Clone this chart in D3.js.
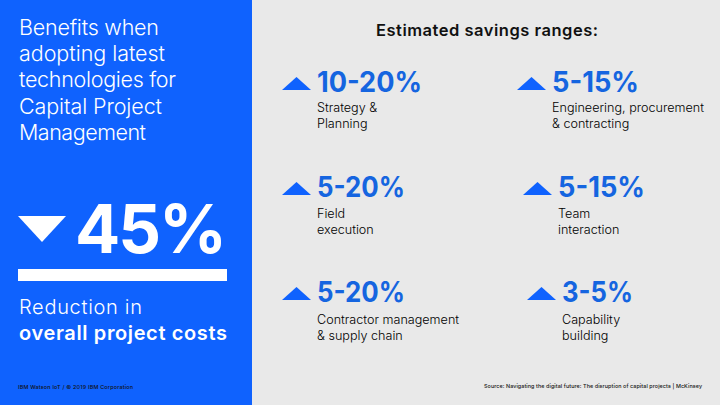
<!DOCTYPE html>
<html>
<head>
<meta charset="utf-8">
<script src="https://cdn.jsdelivr.net/npm/d3@7"></script>
<style>
  html, body { margin: 0; padding: 0; background: #e9e9e9; }
  svg { display: block; }
  text { font-family: "Inter", "Noto Sans", sans-serif; }
</style>
</head>
<body>
<svg id="chart" width="720" height="405"></svg>
<script>
// Values
const savingsRanges = ["10-20%", "5-20%", "5-20%", "5-15%", "5-15%", "3-5%"];
const savingsLabels = [
  ["Strategy &", "Planning"],
  ["Field", "execution"],
  ["Contractor management", "& supply chain"],
  ["Engineering, procurement", "& contracting"],
  ["Team", "interaction"],
  ["Capability", "building"]
];
const titleLines = ["Benefits when", "adopting latest", "technologies for", "Capital Project", "Management"];
const headlineValue = 45;
const headlineScaleMax = 45;

// Layout of the cards, the text start is different on each row of the right column
const cardX = [317, 317, 317, 552, 558, 562];
const cardY = [92, 197, 302, 92, 197, 302];
const labelY = [20, 21, 22, 20, 21, 22];
const rangeWidths = [105, 88, 88, 87, 87, 71];
const titleWidths = [140, 146, 157, 143, 127];

const blue = "#0f62fe";
const svg = d3.select("#chart");

// Left panel
svg.append("rect").attr("width", 252).attr("height", 405).attr("fill", blue);

svg.selectAll("text.title")
  .data(titleLines)
  .join("text")
  .attr("class", "title")
  .attr("x", 19)
  .attr("y", (d, i) => 34.5 + i * 26.4)
  .attr("font-size", 21.5)
  .attr("font-weight", 300)
  .attr("fill", "#fff")
  .attr("textLength", (d, i) => titleWidths[i])
  .text(d => d);

// Big triangle and headline number
svg.append("path")
  .attr("d", d3.line()([[18, 216], [66, 216], [42, 242]]) + "Z")
  .attr("fill", "#fff");

svg.append("text")
  .attr("x", 75)
  .attr("y", 253)
  .attr("font-size", 67)
  .attr("font-weight", 700)
  .attr("fill", "#fff")
  .attr("textLength", 152)
  .text(headlineValue + "%");

// Rule under the number, its length follows the headline value
const ruleScale = d3.scaleLinear().domain([0, headlineScaleMax]).range([18, 227]);
svg.append("rect")
  .attr("x", ruleScale(0))
  .attr("y", 269)
  .attr("width", ruleScale(headlineValue) - ruleScale(0))
  .attr("height", 12)
  .attr("fill", "#fff");

svg.append("text")
  .attr("x", 19).attr("y", 313.5)
  .attr("font-size", 20).attr("font-weight", 300).attr("fill", "#fff")
  .attr("textLength", 123)
  .text("Reduction in");
svg.append("text")
  .attr("x", 19).attr("y", 339.5)
  .attr("font-size", 20).attr("font-weight", 600).attr("fill", "#fff")
  .attr("textLength", 208)
  .text("overall project costs");

svg.append("text")
  .attr("x", 18).attr("y", 389)
  .attr("font-size", 5.4).attr("font-weight", 500).attr("fill", "#111")
  .attr("textLength", 115)
  .text("IBM Watson IoT / © 2019 IBM Corporation");

// Right side
svg.append("text")
  .attr("x", 376).attr("y", 36)
  .attr("font-size", 16.5).attr("font-weight", 600).attr("fill", "#111")
  .attr("textLength", 222)
  .text("Estimated savings ranges:");

const cards = svg.selectAll("g.card")
  .data(savingsRanges)
  .join("g")
  .attr("class", "card")
  .attr("transform", (d, i) => `translate(${cardX[i]},${cardY[i]})`);

cards.append("path")
  .attr("d", d3.line()([[-35, -2], [-6, -2], [-20.5, -15]]) + "Z")
  .attr("fill", blue);

cards.append("text")
  .attr("x", 0)
  .attr("y", 0)
  .attr("font-size", 28)
  .attr("font-weight", 700)
  .attr("fill", "#1565e0")
  .attr("textLength", (d, i) => rangeWidths[i])
  .attr("lengthAdjust", "spacingAndGlyphs")
  .text(d => d);

cards.each(function (d, i) {
  d3.select(this).selectAll("text.label")
    .data(savingsLabels[i])
    .join("text")
    .attr("class", "label")
    .attr("x", 0)
    .attr("y", (l, j) => labelY[i] + j * 15.6)
    .attr("font-size", 12.6)
    .attr("font-weight", 300)
    .attr("fill", "#000")
    .text(l => l);
});

svg.append("text")
  .attr("x", 484).attr("y", 388)
  .attr("font-size", 5.4).attr("font-weight", 500).attr("fill", "#111")
  .attr("textLength", 218)
  .text("Source: Navigating the digital future: The disruption of capital projects | McKinsey");
</script>
</body>
</html>
